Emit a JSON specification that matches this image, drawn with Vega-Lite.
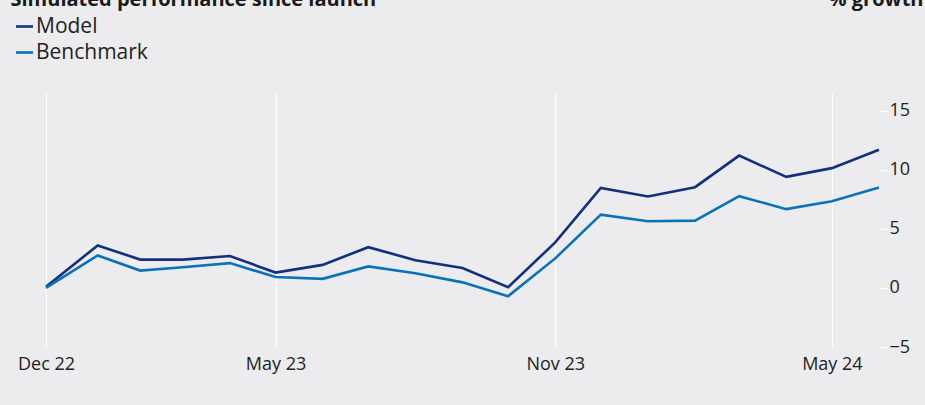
{
  "$schema": "https://vega.github.io/schema/vega-lite/v6.json",
  "width": 833,
  "height": 254,
  "autosize": {"type": "none"},
  "padding": {"left": 46, "top": 93, "right": 46, "bottom": 58},
  "background": "#ececee",
  "config": {
    "view": {"stroke": null},
    "font": "Open Sans"
  },
  "data": {
    "values": [
      {"date": "2022-12-01T00:00:00", "series": "Model", "value": 0.1},
      {"date": "2023-01-04T00:00:00", "series": "Model", "value": 3.6},
      {"date": "2023-02-01T00:00:00", "series": "Model", "value": 2.4},
      {"date": "2023-03-01T00:00:00", "series": "Model", "value": 2.4},
      {"date": "2023-04-01T00:00:00", "series": "Model", "value": 2.7},
      {"date": "2023-05-01T00:00:00", "series": "Model", "value": 1.3},
      {"date": "2023-06-01T00:00:00", "series": "Model", "value": 1.95},
      {"date": "2023-07-01T00:00:00", "series": "Model", "value": 3.45},
      {"date": "2023-08-01T00:00:00", "series": "Model", "value": 2.35},
      {"date": "2023-09-01T00:00:00", "series": "Model", "value": 1.68},
      {"date": "2023-10-01T00:00:00", "series": "Model", "value": 0.07},
      {"date": "2023-11-01T00:00:00", "series": "Model", "value": 3.85},
      {"date": "2023-12-01T00:00:00", "series": "Model", "value": 8.47},
      {"date": "2024-01-01T00:00:00", "series": "Model", "value": 7.74},
      {"date": "2024-02-01T00:00:00", "series": "Model", "value": 8.53},
      {"date": "2024-03-01T00:00:00", "series": "Model", "value": 11.2},
      {"date": "2024-04-01T00:00:00", "series": "Model", "value": 9.4},
      {"date": "2024-05-01T00:00:00", "series": "Model", "value": 10.14},
      {"date": "2024-06-01T00:00:00", "series": "Model", "value": 11.7},
      {"date": "2022-12-01T00:00:00", "series": "Benchmark", "value": 0.0},
      {"date": "2023-01-04T00:00:00", "series": "Benchmark", "value": 2.75},
      {"date": "2023-02-01T00:00:00", "series": "Benchmark", "value": 1.47},
      {"date": "2023-03-01T00:00:00", "series": "Benchmark", "value": 1.75},
      {"date": "2023-04-01T00:00:00", "series": "Benchmark", "value": 2.1},
      {"date": "2023-05-01T00:00:00", "series": "Benchmark", "value": 0.93},
      {"date": "2023-06-01T00:00:00", "series": "Benchmark", "value": 0.77},
      {"date": "2023-07-01T00:00:00", "series": "Benchmark", "value": 1.82},
      {"date": "2023-08-01T00:00:00", "series": "Benchmark", "value": 1.24},
      {"date": "2023-09-01T00:00:00", "series": "Benchmark", "value": 0.47},
      {"date": "2023-10-01T00:00:00", "series": "Benchmark", "value": -0.7},
      {"date": "2023-11-01T00:00:00", "series": "Benchmark", "value": 2.5},
      {"date": "2023-12-01T00:00:00", "series": "Benchmark", "value": 6.2},
      {"date": "2024-01-01T00:00:00", "series": "Benchmark", "value": 5.65},
      {"date": "2024-02-01T00:00:00", "series": "Benchmark", "value": 5.7},
      {"date": "2024-03-01T00:00:00", "series": "Benchmark", "value": 7.77},
      {"date": "2024-04-01T00:00:00", "series": "Benchmark", "value": 6.67},
      {"date": "2024-05-01T00:00:00", "series": "Benchmark", "value": 7.34},
      {"date": "2024-06-01T00:00:00", "series": "Benchmark", "value": 8.5}
    ]
  },
  "mark": {"type": "line", "strokeWidth": 2.6, "strokeJoin": "miter"},
  "encoding": {
    "x": {
      "field": "date",
      "type": "temporal",
      "scale": {"domain": [{"year": 2022, "month": 12, "date": 1}, {"year": 2024, "month": 6, "date": 1}]},
      "axis": {
        "title": "Simulated performance since launch",
        "titleAnchor": "start",
        "titleAlign": "left",
        "titleBaseline": "alphabetic",
        "titleAngle": 0,
        "titleX": -36,
        "titleY": -342,
        "titleFontSize": 20,
        "titleFontWeight": "bold",
        "titleColor": "#1a1a1a",
        "values": [
          {"year": 2022, "month": 12, "date": 1},
          {"year": 2023, "month": 5, "date": 1},
          {"year": 2023, "month": 11, "date": 1},
          {"year": 2024, "month": 5, "date": 1}
        ],
        "format": "%b %y",
        "domain": false,
        "ticks": false,
        "grid": true,
        "gridColor": "#ffffff",
        "gridWidth": 1.2,
        "gridOpacity": 1,
        "labelFontSize": 18,
        "labelColor": "#222222",
        "labelPadding": 8,
        "labelFlush": false
      }
    },
    "y": {
      "field": "value",
      "type": "quantitative",
      "scale": {"domain": [-5, 16.5], "nice": false, "zero": false},
      "axis": {
        "orient": "right",
        "values": [-5, 0, 5, 10, 15],
        "domain": false,
        "grid": false,
        "ticks": true,
        "tickColor": "#ffffff",
        "tickSize": 8,
        "tickWidth": 1.2,
        "labelPadding": 2,
        "labelFontSize": 18,
        "labelColor": "#222222",
        "labelFlush": false,
        "title": "% growth",
        "titleAngle": 0,
        "titleAlign": "right",
        "titleBaseline": "alphabetic",
        "titleX": 44,
        "titleY": -88,
        "titleFontSize": 20,
        "titleFontWeight": "bold",
        "titleColor": "#1a1a1a"
      }
    },
    "color": {
      "field": "series",
      "type": "nominal",
      "scale": {"domain": ["Model", "Benchmark"], "range": ["#12307e", "#0a72b8"]},
      "legend": {
        "title": null,
        "orient": "none",
        "legendX": -32,
        "legendY": -77,
        "direction": "vertical",
        "symbolType": "stroke",
        "symbolSize": 289,
        "symbolStrokeWidth": 2.6,
        "labelFontSize": 21,
        "labelColor": "#222222",
        "labelOffset": 1,
        "rowPadding": 4,
        "padding": 0
      }
    }
  }
}
